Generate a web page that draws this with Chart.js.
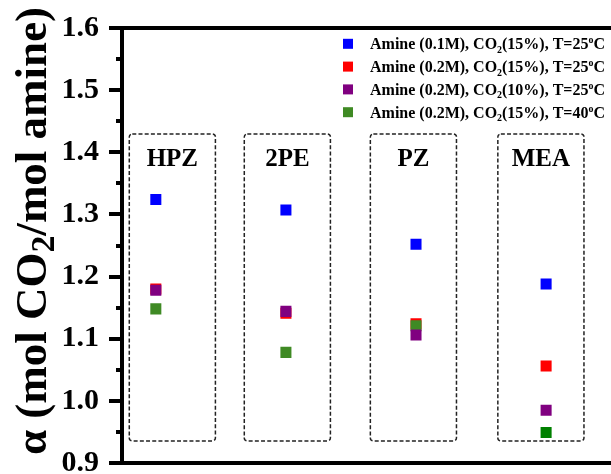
<!DOCTYPE html>
<html><head><meta charset="utf-8">
<script src="https://cdn.jsdelivr.net/npm/chart.js@4/dist/chart.umd.min.js"></script>
<style>html,body{margin:0;padding:0;overflow:hidden;background:#fff;width:611px;height:474px}canvas{display:block}</style>
</head><body>
<canvas id="c" width="684" height="520"></canvas>
<script>
// ---- data ----
const categories = ['HPZ', '2PE', 'PZ', 'MEA'];
const categoryX = [1, 2, 3, 4];
const seriesLabels = [
  'Amine (0.1M), CO₂(15%), T=25°C',
  'Amine (0.2M), CO₂(15%), T=25°C',
  'Amine (0.2M), CO₂(10%), T=25°C',
  'Amine (0.2M), CO₂(15%), T=40°C'
];
const amine01_co2_15_t25 = [1.324, 1.307, 1.252, 1.188];
const amine02_co2_15_t25 = [1.180, 1.141, 1.124, 1.056];
const amine02_co2_10_t25 = [1.178, 1.144, 1.106, 0.985];
const amine02_co2_15_t40 = [1.148, 1.078, 1.121, 0.949];
const yTickValues = [0.9, 1.0, 1.1, 1.2, 1.3, 1.4, 1.5, 1.6];
const yTickLabels = ['0.9', '1.0', '1.1', '1.2', '1.3', '1.4', '1.5', '1.6'];
const yMinorTicks = [0.95, 1.05, 1.15, 1.25, 1.35, 1.45, 1.55];
const yTitle = 'α (mol CO₂/mol amine)';

// ---- helpers ----
const SERIF = "'Liberation Serif','Times New Roman',serif";
function parseRich(text) {
  const segs = [];
  for (const ch of text) {
    if (ch === '₂') segs.push({ t: '2', k: 'sub' });
    else if (ch === '°') segs.push({ t: 'o', k: 'sup' });
    else if (segs.length && segs[segs.length - 1].k === 'n') segs[segs.length - 1].t += ch;
    else segs.push({ t: ch, k: 'n' });
  }
  return segs;
}
function richWidth(ctx, segs, size, cfg) {
  let w = 0;
  for (const s of segs) {
    const fs = s.k === 'n' ? size : size * (s.k === 'sub' ? cfg.subScale : cfg.supScale);
    ctx.font = 'bold ' + fs + 'px ' + SERIF;
    w += ctx.measureText(s.t).width;
  }
  return w;
}
function drawRich(ctx, text, x, y, size, cfg) {
  const segs = parseRich(text);
  let cx = x;
  if (cfg.align === 'center') cx = x - richWidth(ctx, segs, size, cfg) / 2;
  ctx.textAlign = 'left';
  ctx.textBaseline = 'alphabetic';
  for (const s of segs) {
    let fs = size, dy = 0;
    if (s.k === 'sub') { fs = size * cfg.subScale; dy = size * cfg.subShift; }
    if (s.k === 'sup') { fs = size * cfg.supScale; dy = -size * cfg.supShift; }
    ctx.font = 'bold ' + fs + 'px ' + SERIF;
    ctx.fillText(s.t, cx, y + dy);
    cx += ctx.measureText(s.t).width;
  }
}

const decorPlugin = {
  id: 'decor',
  beforeDatasetsDraw(chart, args, opts) {
    const ctx = chart.ctx, xs = chart.scales.x, ys = chart.scales.y;
    ctx.save();
    // group boxes
    ctx.strokeStyle = '#222';
    ctx.lineWidth = 1.5;
    ctx.setLineDash([4, 2.2]);
    const top = ys.getPixelForValue(opts.boxTop), bot = ys.getPixelForValue(opts.boxBottom);
    opts.boxCenters.forEach((c, i) => {
      const l = xs.getPixelForValue(c - opts.boxHalf), r = xs.getPixelForValue(c + opts.boxHalf);
      ctx.beginPath();
      ctx.roundRect(l, top, r - l, bot - top, 3);
      ctx.stroke();
      ctx.fillStyle = '#000';
      ctx.font = 'bold 25px ' + SERIF;
      ctx.textAlign = 'center';
      ctx.textBaseline = 'middle';
      ctx.fillText(categories[i], xs.getPixelForValue(c), ys.getPixelForValue(opts.labelY));
    });
    ctx.setLineDash([]);
    // minor ticks
    ctx.strokeStyle = '#000';
    ctx.lineWidth = 4;
    yMinorTicks.forEach(v => {
      const py = Math.round(ys.getPixelForValue(v));
      ctx.beginPath();
      ctx.moveTo(xs.left - 6, py);
      ctx.lineTo(xs.left, py);
      ctx.stroke();
    });
    ctx.restore();
  },
  afterDraw(chart, args, opts) {
    const ctx = chart.ctx;
    ctx.save();
    ctx.fillStyle = '#000';
    // y title
    ctx.translate(opts.titleX, opts.titleY);
    ctx.rotate(-Math.PI / 2);
    drawRich(ctx, yTitle, 0, 0, opts.titleSize, { align: 'center', subScale: 0.75, subShift: 0.17, supScale: 0.6, supShift: 0.35 });
    ctx.restore();
    // legend
    ctx.save();
    chart.data.datasets.forEach((ds, i) => {
      const y = opts.legendY0 + i * opts.legendDy;
      ctx.fillStyle = Array.isArray(ds.backgroundColor) ? ds.backgroundColor[0] : ds.backgroundColor;
      ctx.fillRect(opts.legendBoxX - 5, y - 5, 10, 10);
      ctx.fillStyle = '#000';
      drawRich(ctx, ds.label, opts.legendTextX, y + 5.5, 16, { align: 'left', subScale: 0.62, subShift: 0.22, supScale: 0.62, supShift: 0.38 });
    });
    ctx.restore();
  }
};

const mk = (vals) => categoryX.map((x, i) => ({ x, y: vals[i] }));
const olive = '#3f8a24';

new Chart(document.getElementById('c'), {
  type: 'scatter',
  data: {
    datasets: [
      { label: seriesLabels[0], data: mk(amine01_co2_15_t25), backgroundColor: '#0000ff', order: 0 },
      { label: seriesLabels[1], data: mk(amine02_co2_15_t25), backgroundColor: '#ff0000', order: 3 },
      { label: seriesLabels[2], data: mk(amine02_co2_10_t25), backgroundColor: '#800080', order: 1 },
      { label: seriesLabels[3], data: mk(amine02_co2_15_t40), backgroundColor: [olive, olive, olive, '#008000'], order: 2 }
    ]
  },
  options: {
    responsive: false,
    animation: false,
    devicePixelRatio: 1,
    layout: { padding: { top: 25, bottom: 57, left: 0, right: 0 } },
    elements: { point: { pointStyle: 'rect', radius: 7.8, hoverRadius: 7.8, borderWidth: 0 } },
    scales: {
      x: {
        type: 'linear', min: 0.74, max: 5.0,
        ticks: { display: false },
        grid: { display: false, drawTicks: false },
        border: { display: true, width: 4, color: '#000' },
        afterFit: (s) => { s.height = 0; }
      },
      y: {
        type: 'linear', min: 0.9, max: 1.6,
        afterBuildTicks: (s) => { s.ticks = yTickValues.map(v => ({ value: v })); },
        ticks: {
          callback: (v, i) => yTickLabels[i],
          color: '#000', padding: 10,
          font: { family: SERIF, size: 30, weight: 'bold' }
        },
        grid: {
          drawOnChartArea: true, drawTicks: true, tickLength: 13, tickWidth: 4, tickColor: '#000',
          lineWidth: 4,
          color: (c) => (c.tick && Math.abs(c.tick.value - 1.6) < 1e-9) ? '#000' : 'rgba(0,0,0,0)'
        },
        border: { display: true, width: 4, color: '#000' },
        afterFit: (s) => { s.width = 122; }
      }
    },
    plugins: {
      legend: { display: false },
      tooltip: { enabled: false },
      decor: {
        boxCenters: [1.127, 2.011, 2.98, 3.96], boxHalf: 0.331,
        boxTop: 1.4295, boxBottom: 0.9356, labelY: 1.389,
        titleX: 46, titleY: 231, titleSize: 45,
        legendY0: 43.8, legendDy: 22.8, legendBoxX: 348, legendTextX: 370
      }
    }
  },
  plugins: [decorPlugin]
});
</script>
</body></html>
